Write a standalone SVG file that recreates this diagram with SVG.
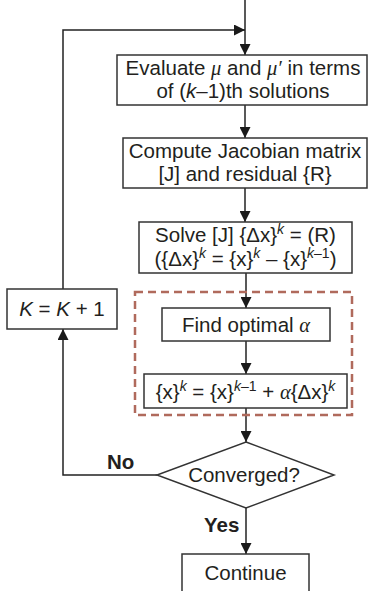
<svg xmlns="http://www.w3.org/2000/svg" width="369" height="591" viewBox="0 0 369 591">
<defs>
<marker id="ah" viewBox="0 0 11 11" refX="11" refY="5.5" markerWidth="11" markerHeight="11" markerUnits="userSpaceOnUse" orient="auto">
<path d="M0,0 L11,5.5 L0,11 z" fill="#1a1a1a"/>
</marker>
<style>
.box{fill:#fff;stroke:#333;stroke-width:1.5}
.ln{fill:none;stroke:#222;stroke-width:1.5}
.t{font-family:"Liberation Sans",Arial,sans-serif;font-size:20.5px;fill:#231f20;text-anchor:middle}
.b{font-weight:bold;text-anchor:start}
.gr{font-family:"Liberation Serif","Times New Roman",serif;font-style:italic}
.it{font-style:italic}
.sup{font-size:14px}
.dash{fill:none;stroke:#b06a5c;stroke-width:2.5;stroke-dasharray:8,5}
</style>
</defs>
<rect width="369" height="591" fill="#fff"/>

<g id="connectors">
<path class="ln" d="M245,0 V55" marker-end="url(#ah)"/>
<path class="ln" d="M63,289 V30 H245" marker-end="url(#ah)"/>
<path class="ln" d="M245,105 V138" marker-end="url(#ah)"/>
<path class="ln" d="M245,188 V222" marker-end="url(#ah)"/>
<path class="ln" d="M246,273 V308" marker-end="url(#ah)"/>
<path class="ln" d="M246,341 V374" marker-end="url(#ah)"/>
<path class="ln" d="M246,408 V442" marker-end="url(#ah)"/>
<path class="ln" d="M246,508 V554" marker-end="url(#ah)"/>
<path class="ln" d="M157,475 H63 V329" marker-end="url(#ah)"/>
<text class="t b" x="107" y="469">No</text>
<text class="t b" x="204" y="532">Yes</text>
</g>

<g id="group-dashed">
<rect class="dash" x="135" y="292" width="217" height="123"/>
</g>

<g id="evaluate">
<rect class="box" x="117" y="55" width="250" height="50"/>
<text class="t" x="243" y="75">Evaluate <tspan class="gr">μ</tspan> and <tspan class="gr">μ′</tspan> in terms</text>
<text class="t" x="243" y="98">of (<tspan class="it">k</tspan>–1)th solutions</text>
</g>

<g id="jacobian">
<rect class="box" x="123" y="138" width="244" height="50"/>
<text class="t" x="245" y="158">Compute Jacobian matrix</text>
<text class="t" x="245" y="181">[J] and residual {R}</text>
</g>

<g id="solve">
<rect class="box" x="139" y="222" width="213" height="51"/>
<text class="t" x="245.5" y="242">Solve [J] {Δx}<tspan class="sup it" dy="-8">k</tspan><tspan dy="8"> = (R)</tspan></text>
<text class="t" x="245.5" y="266">({Δx}<tspan class="sup it" dy="-8">k</tspan><tspan dy="8"> = {x}</tspan><tspan class="sup it" dy="-8">k</tspan><tspan dy="8"> – {x}</tspan><tspan class="sup" dy="-8"><tspan class="it">k</tspan>–1</tspan><tspan dy="8">)</tspan></text>
</g>

<g id="increment">
<rect class="box" x="7" y="289" width="110" height="40"/>
<text class="t" x="62" y="316"><tspan class="it">K</tspan> = <tspan class="it">K</tspan> + 1</text>
</g>

<g id="find-alpha">
<rect class="box" x="162" y="308" width="168" height="33"/>
<text class="t" x="246" y="332">Find optimal <tspan class="gr">α</tspan></text>
</g>

<g id="update">
<rect class="box" x="144" y="374" width="203" height="34"/>
<text class="t" x="245.5" y="399">{x}<tspan class="sup it" dy="-8">k</tspan><tspan dy="8"> = {x}</tspan><tspan class="sup" dy="-8"><tspan class="it">k</tspan>–1</tspan><tspan dy="8"> + </tspan><tspan class="gr">α</tspan>{Δx}<tspan class="sup it" dy="-8">k</tspan></text>
</g>

<g id="converged">
<polygon class="box" points="246,442 334,475 246,508 157,475"/>
<text class="t" x="244" y="482">Converged?</text>
</g>

<g id="continue">
<rect class="box" x="182" y="554" width="127" height="50"/>
<text class="t" x="245.5" y="580">Continue</text>
</g>
</svg>
